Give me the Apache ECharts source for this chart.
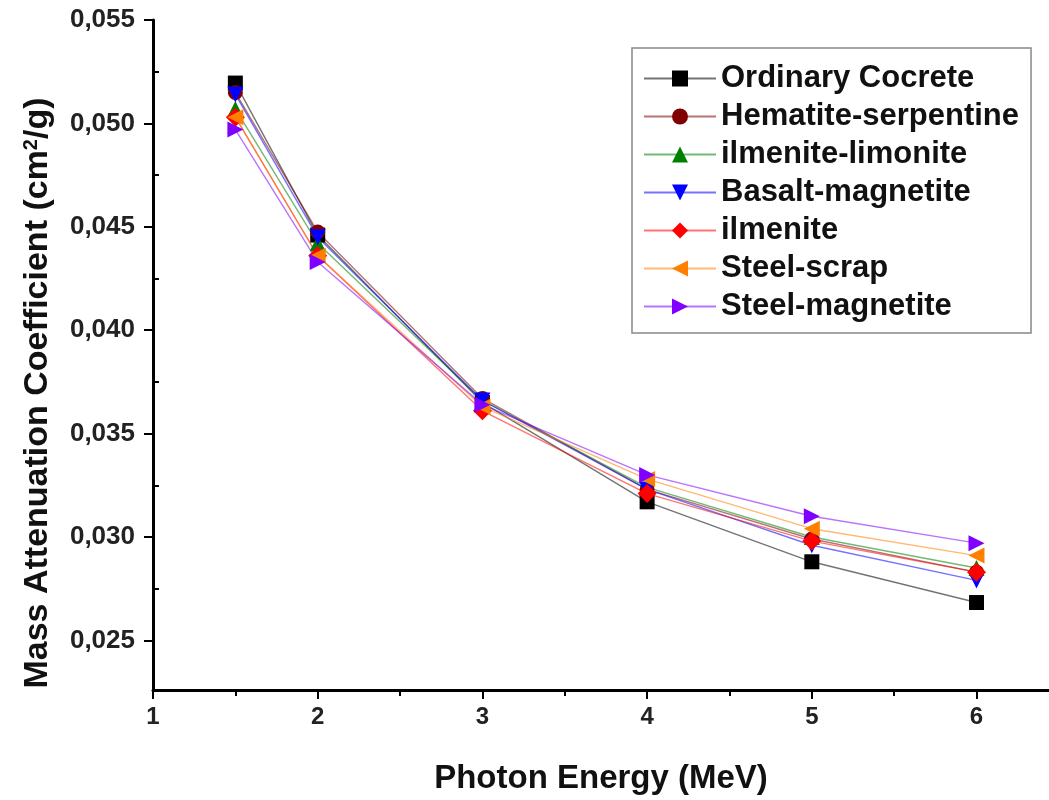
<!DOCTYPE html>
<html>
<head>
<meta charset="utf-8">
<title>Mass attenuation coefficient vs photon energy</title>
<script src="https://cdn.jsdelivr.net/npm/echarts@6/dist/echarts.min.js"></script>
<style>
  html, body { margin: 0; padding: 0; background: #fff; }
  #chart { width: 1049px; height: 800px; }
</style>
</head>
<body>
<div id="chart"></div>
<script>
// photon energies (MeV)
const energies = [1.5, 2, 3, 4, 5, 6]

// mass attenuation coefficient (cm2/g) per concrete type
const ordinaryConcrete = [0.05195, 0.0446, 0.0365, 0.0317, 0.0288, 0.02683]
const hematiteSerpentine = [0.0515, 0.04475, 0.0367, 0.0323, 0.0299, 0.0283]
const ilmeniteLimonite = [0.0507, 0.0442, 0.0366, 0.0324, 0.0300, 0.0285]
const basaltMagnetite = [0.0514, 0.0445, 0.0366, 0.0323, 0.0296, 0.0279]
const ilmenite = [0.0503, 0.0436, 0.0361, 0.0321, 0.0298, 0.0283]
const steelScrap = [0.0503, 0.0436, 0.0363, 0.0328, 0.0304, 0.0291]
const steelMagnetite = [0.0497, 0.0433, 0.0364, 0.0330, 0.0310, 0.0297]

const xTicks = [1, 2, 3, 4, 5, 6]
const xMinorTicks = [1.5, 2.5, 3.5, 4.5, 5.5]
const yTicks = [0.025, 0.030, 0.035, 0.040, 0.045, 0.050, 0.055]
const yMinorTicks = [0.0275, 0.0325, 0.0375, 0.0425, 0.0475, 0.0525]

const FONT = '"Liberation Sans", Arial, sans-serif'

const seriesDefs = [
  { name: 'Ordinary Cocrete', data: ordinaryConcrete, color: '#000000', symbol: 'rect', size: 15, rotate: 0 },
  { name: 'Hematite-serpentine', data: hematiteSerpentine, color: '#800000', symbol: 'circle', size: 15, rotate: 0 },
  { name: 'ilmenite-limonite', data: ilmeniteLimonite, color: '#008000', symbol: 'triangle', size: 16, rotate: 0 },
  { name: 'Basalt-magnetite', data: basaltMagnetite, color: '#0000ff', symbol: 'triangle', size: 16, rotate: 180 },
  { name: 'ilmenite', data: ilmenite, color: '#ff0000', symbol: 'diamond', size: 19, rotate: 0 },
  { name: 'Steel-scrap', data: steelScrap, color: '#ff8000', symbol: 'triangle', size: 16, rotate: 90 },
  { name: 'Steel-magnetite', data: steelMagnetite, color: '#8000ff', symbol: 'triangle', size: 16, rotate: -90 }
]

const chart = echarts.init(document.getElementById('chart'))

const fmt = v => v.toFixed(3).replace('.', ',')

chart.setOption({
  animation: false,
  backgroundColor: '#fff',
  grid: { left: 153, right: 0, top: 20, bottom: 108 },
  legend: {
    left: 632,
    top: 48,
    orient: 'vertical',
    padding: [15, 12, 11, 11],
    itemWidth: 72,
    itemHeight: 20,
    itemGap: 7,
    borderColor: '#888',
    borderWidth: 1.5,
    textStyle: { fontFamily: FONT, fontWeight: 'bold', fontSize: 31, color: '#111' },
    data: seriesDefs.map(s => s.name)
  },
  xAxis: [
    {
      type: 'value',
      min: 1,
      max: 6.44,
      name: 'Photon Energy (MeV)',
      nameLocation: 'middle',
      nameGap: 72,
      nameTextStyle: { fontFamily: FONT, fontWeight: 'bold', fontSize: 33, color: '#111' },
      axisLine: { lineStyle: { color: '#000', width: 3 } },
      axisTick: { customValues: xTicks, length: 9, lineStyle: { width: 2, color: '#000' } },
      axisLabel: {
        customValues: xTicks,
        margin: 15,
        fontFamily: FONT, fontWeight: 'bold', fontSize: 24, color: '#222'
      },
      splitLine: { show: false }
    },
    {
      // minor ticks only
      type: 'value',
      min: 1,
      max: 6.44,
      position: 'bottom',
      axisLine: { show: false },
      axisTick: { customValues: xMinorTicks, length: 6, lineStyle: { width: 2, color: '#000' } },
      axisLabel: { show: false },
      splitLine: { show: false }
    }
  ],
  yAxis: [
    {
      type: 'value',
      min: 0.0226,
      max: 0.055,
      name: 'Mass Attenuation Coefficient (cm{sup|2}/g)',
      nameLocation: 'middle',
      nameGap: 98,
      nameTextStyle: {
        fontFamily: FONT, fontWeight: 'bold', fontSize: 34, color: '#111',
        padding: [0, 76, 0, 0],
        rich: {
          sup: { fontFamily: FONT, fontWeight: 'bold', fontSize: 20, color: '#111', verticalAlign: 'top', padding: [0, 0, 14, 0] }
        }
      },
      axisLine: { lineStyle: { color: '#000', width: 3 } },
      axisTick: { customValues: yTicks, length: 9, lineStyle: { width: 2, color: '#000' } },
      axisLabel: {
        customValues: yTicks,
        margin: 18,
        formatter: fmt,
        fontFamily: FONT, fontWeight: 'bold', fontSize: 26, color: '#222'
      },
      splitLine: { show: false }
    },
    {
      // minor ticks point inward
      type: 'value',
      min: 0.0226,
      max: 0.055,
      position: 'left',
      axisLine: { show: false },
      axisTick: { customValues: yMinorTicks, inside: true, length: 6, lineStyle: { width: 2, color: '#000' } },
      axisLabel: { show: false },
      splitLine: { show: false }
    }
  ],
  series: seriesDefs.map(s => ({
    name: s.name,
    type: 'line',
    data: energies.map((e, i) => [e, s.data[i]]),
    symbol: s.symbol,
    symbolSize: s.size,
    symbolRotate: s.rotate,
    itemStyle: { color: s.color },
    lineStyle: { color: s.color, width: 1.4, opacity: 0.55 }
  }))
})
</script>
</body>
</html>
